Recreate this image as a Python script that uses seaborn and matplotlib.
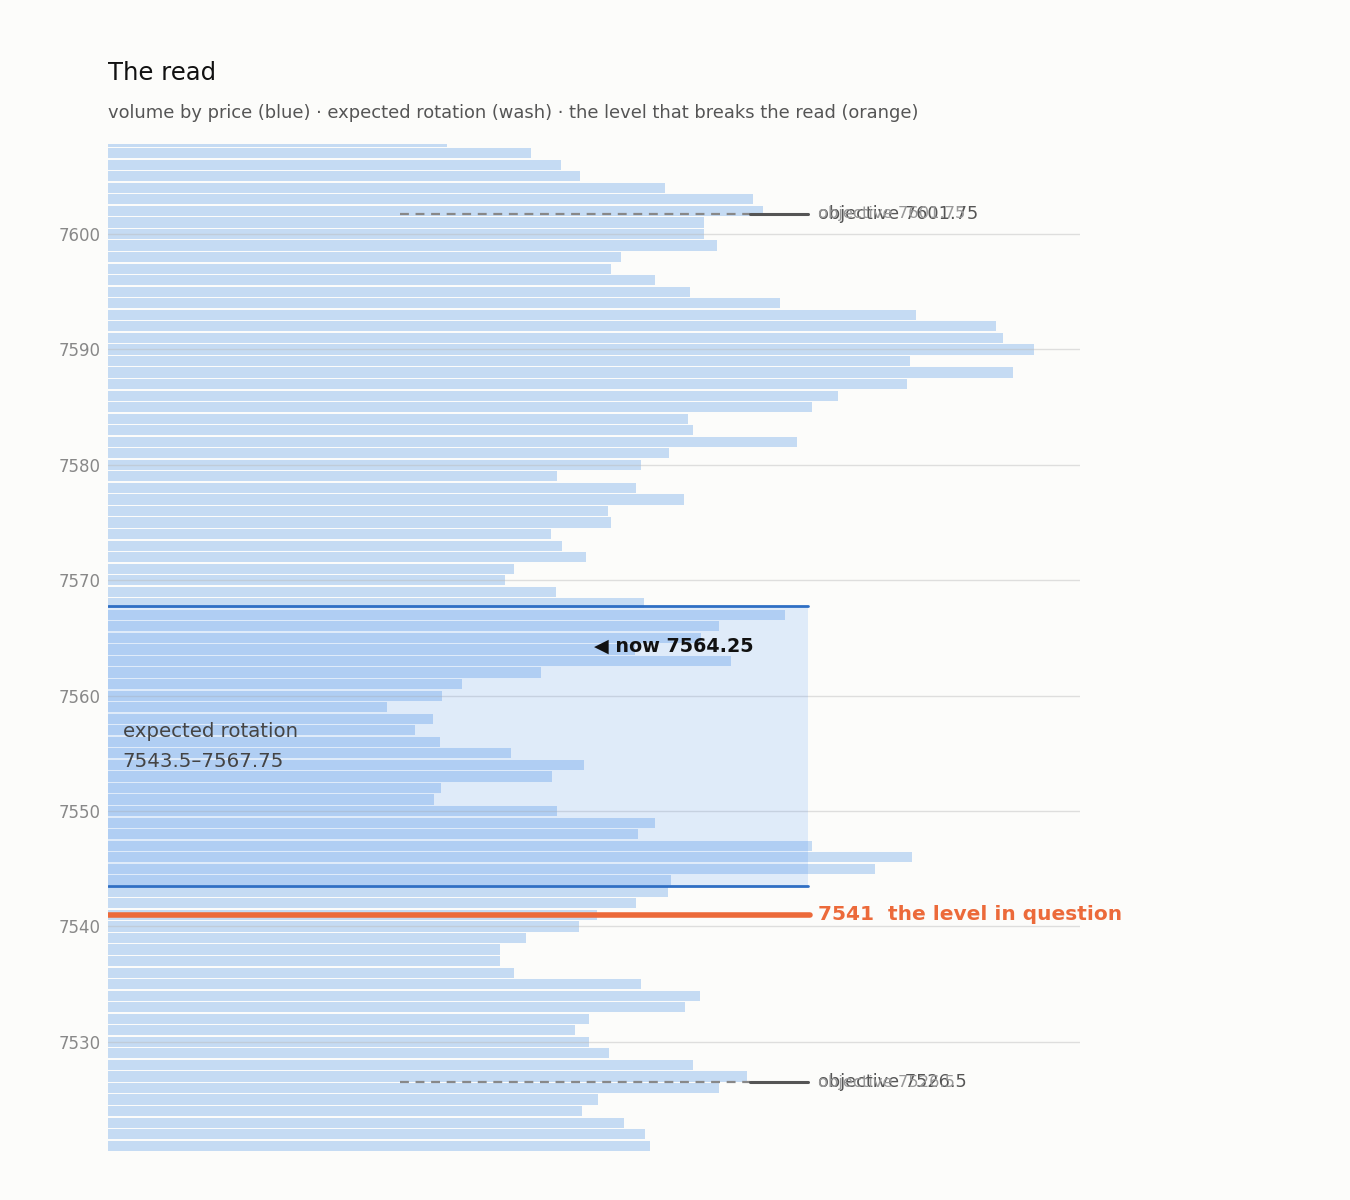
import matplotlib
matplotlib.use("Agg")
import matplotlib.pyplot as plt
import seaborn as sns
import pandas as pd

# price levels, top to bottom
PRICES = list(range(7608, 7520, -1))
VOLUME = [
    339, 423, 453, 472, 557, 645, 655, 596, 596, 609,
    513, 503, 547, 582, 672, 808, 888, 895, 926, 802,
    905, 799, 730, 704, 580, 585, 689, 561, 533, 449,
    528, 576, 500, 503, 443, 454, 478, 406, 397, 448,
    536, 677, 611, 593, 527, 623, 433, 354, 334, 279,
    325, 307, 332, 403, 476, 444, 333, 326, 449, 547,
    530, 704, 804, 767, 563, 560, 528, 489, 471, 418,
    392, 392, 406, 533, 592, 577, 481, 467, 481, 501,
    585, 639, 611, 490, 474, 516, 537, 542,
]

ROTATION_LOW = 7543.5
ROTATION_HIGH = 7567.75
NOW = 7564.25
LEVEL = 7541
OBJECTIVES = [7601.75, 7526.5]
OBJECTIVE_LABELS = ["objective 7601.75", "objective 7526.5"]
Y_TICKS = [7530, 7540, 7550, 7560, 7570, 7580, 7590, 7600]

BG = "#fcfcfa"
BAR_BLUE = "#c5dbf3"
BAND_BLUE = "#3484f5"
EDGE_BLUE = "#2f6fc4"
ORANGE = "#ec6a3a"


def main():
    sns.set_theme(style="white")
    plt.rcParams["font.family"] = "sans-serif"
    plt.rcParams["font.sans-serif"] = ["DejaVu Sans"]

    df = pd.DataFrame({"price": PRICES, "volume": VOLUME})

    fig = plt.figure(figsize=(13.5, 12), dpi=100, facecolor=BG)
    ax = fig.add_axes([0.08, 0.041, 0.72, 0.839])
    ax.set_facecolor(BG)

    sns.barplot(
        data=df, x="volume", y="price", orient="h", native_scale=True,
        color=BAR_BLUE, saturation=1, width=0.88, linewidth=0, ax=ax,
    )

    ax.set_xlim(0, max(VOLUME) * 1.05)
    ax.set_ylim(7520.56, 7607.8)

    # expected rotation wash
    ax.axhspan(ROTATION_LOW, ROTATION_HIGH, xmin=0, xmax=0.72,
               color=BAND_BLUE, alpha=0.14, lw=0, zorder=3)
    for y in (ROTATION_LOW, ROTATION_HIGH):
        ax.axhline(y, xmin=0, xmax=0.72, color=EDGE_BLUE, lw=2, zorder=4)
    ax.text(0.015, (ROTATION_LOW + ROTATION_HIGH) / 2,
            "expected rotation\n7543.5\u20137567.75",
            transform=ax.get_yaxis_transform(), va="center", ha="left",
            fontsize=14.2, color="#444444", linespacing=1.75, zorder=6)

    # objectives
    for y, label in zip(OBJECTIVES, OBJECTIVE_LABELS):
        ax.axhline(y, xmin=0.30, xmax=0.66, color="#888888", lw=1.6,
                   ls=(0, (4, 3)), zorder=4)
        ax.axhline(y, xmin=0.66, xmax=0.72, color="#555555", lw=2.2, zorder=4)
        ax.text(0.73, y, label, transform=ax.get_yaxis_transform(),
                va="center", ha="left", fontsize=12.8, color="#555555",
                clip_on=False, zorder=6)
        ax.text(0.73, y, label, transform=ax.get_yaxis_transform(),
                va="center", ha="left", fontsize=11.8, color="#999999",
                clip_on=False, zorder=6)

    # the level in question
    ax.axhline(LEVEL, xmin=0, xmax=0.722, color=ORANGE, lw=4, zorder=5)
    ax.text(0.73, LEVEL, f"{LEVEL}  the level in question",
            transform=ax.get_yaxis_transform(), va="center", ha="left",
            fontsize=14.5, fontweight="bold", color=ORANGE, clip_on=False,
            zorder=6)

    # current price
    ax.text(0.5, NOW, f"\u25c0 now {NOW}", transform=ax.get_yaxis_transform(),
            va="center", ha="left", fontsize=13.8, fontweight="bold",
            color="#111111", zorder=6)

    ax.set_yticks(Y_TICKS)
    ax.set_yticklabels([str(t) for t in Y_TICKS], fontsize=12, color="#888888")
    ax.tick_params(axis="y", length=0, pad=5)
    ax.set_xticks([])
    ax.set_xlabel("")
    ax.set_ylabel("")
    ax.grid(axis="y", color="#bbbbbb", alpha=0.45, lw=1)
    ax.set_axisbelow(False)
    for spine in ax.spines.values():
        spine.set_visible(False)

    fig.text(0.08, 0.9395, "The read", fontsize=17.5, color="#111111",
             va="center", ha="left")
    fig.text(0.08, 0.9055,
             "volume by price (blue) \u00b7 expected rotation (wash) \u00b7 "
             "the level that breaks the read (orange)",
             fontsize=12.9, color="#555555", va="center", ha="left")

    fig.savefig("out.png", dpi=100, facecolor=BG)
    plt.close(fig)


if __name__ == "__main__":
    main()
